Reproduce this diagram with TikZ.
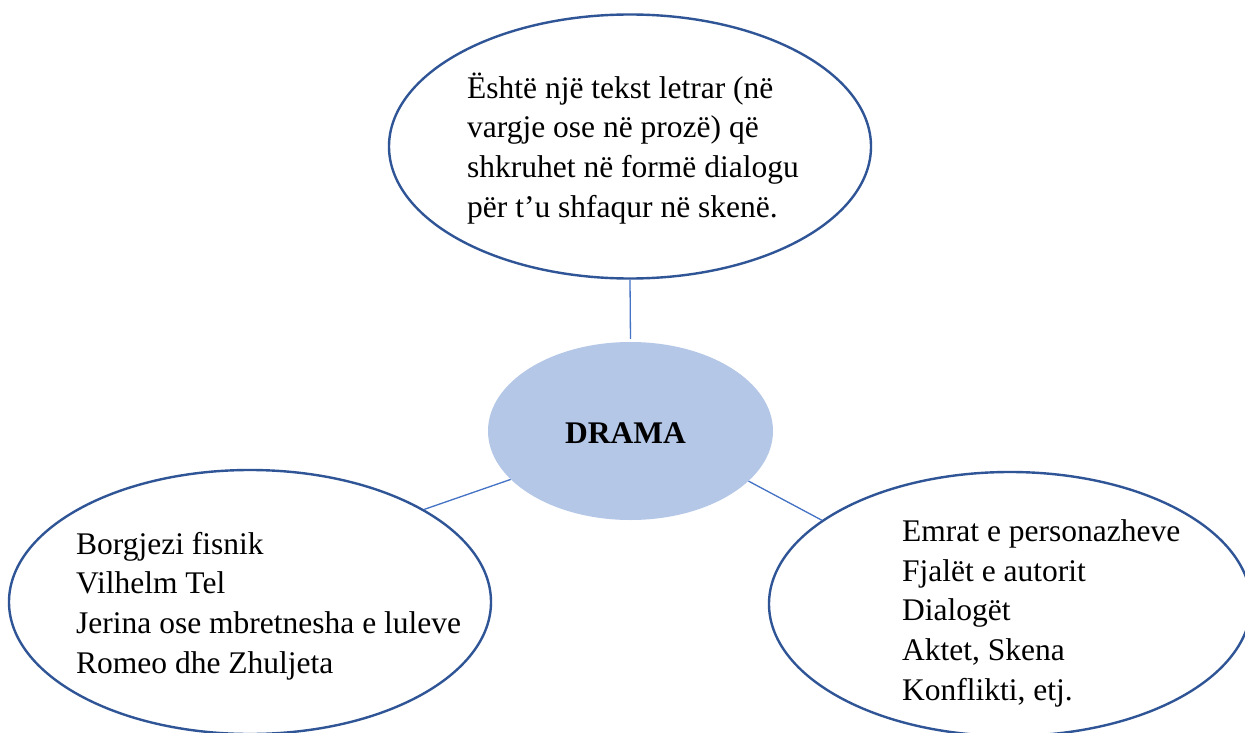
\documentclass[tikz,border=0pt]{standalone}
\usepackage{fontspec}
\setmainfont{Liberation Serif}
\usetikzlibrary{shapes.geometric}
\definecolor{rim}{HTML}{2F5597}
\definecolor{link}{HTML}{4472C4}
\definecolor{hub}{HTML}{B4C7E7}
\tikzset{
  bubble/.style={ellipse, draw=rim, line width=2.4pt, fill=white, minimum width=482pt, minimum height=264pt, inner sep=0pt},
  hubstyle/.style={ellipse, fill=hub, minimum width=285pt, minimum height=178pt, inner sep=0pt},
  words/.style={anchor=base west, align=left, inner sep=0pt, font=\fontsize{31.5pt}{39.6pt}\selectfont},
  linkline/.style={draw=link, line width=1.3pt}
}
\begin{document}
\begin{tikzpicture}[x=1pt,y=-1pt]
\clip (0,0) rectangle (1245,733);
\fill[white] (0,0) rectangle (1245,733);
\node[bubble] (top) at (630,146.5) {};
\node[hubstyle] (hubnode) at (630.5,431) {};
\node[bubble] (left) at (250,602) {};
\node[bubble] (right) at (1010,604) {};
\draw[linkline, shorten >=3pt] (top.south) -- (hubnode.north);
\draw[linkline] (hubnode.202) -- (left.28.4);
\draw[linkline] (hubnode.337) -- (right.156);
\node[anchor=base, inner sep=0pt, font=\fontsize{31.5pt}{36pt}\selectfont\bfseries] (title) at (625.5,443) {DRAMA};
\node[words] (toptext) at (467,217) {Është një tekst letrar (në\\vargje ose në prozë) që\\shkruhet në formë dialogu\\për t’u shfaqur në skenë.};
\node[words] (lefttext) at (76,673) {Borgjezi fisnik\\Vilhelm Tel\\Jerina ose mbretnesha e luleve\\Romeo dhe Zhuljeta};
\node[words] (righttext) at (902,700) {Emrat e personazheve\\Fjalët e autorit\\Dialogët\\Aktet, Skena\\Konflikti, etj.};
\end{tikzpicture}
\end{document}
